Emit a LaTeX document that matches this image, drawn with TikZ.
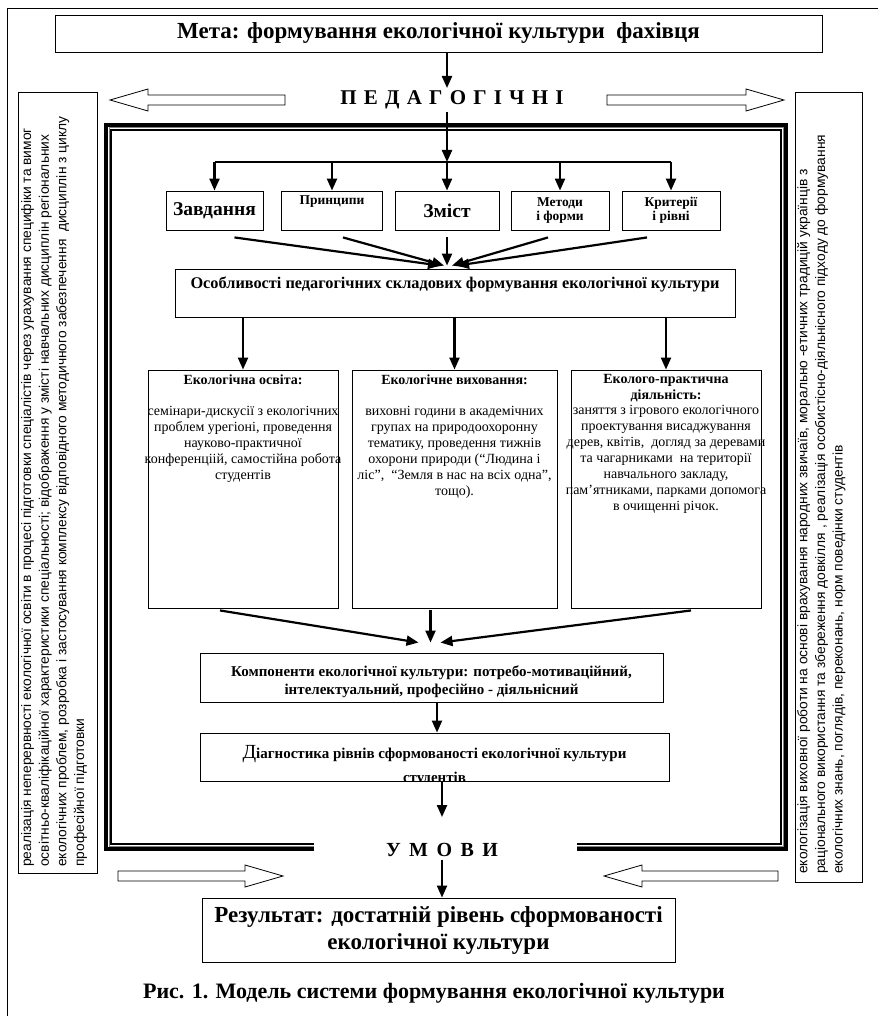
\documentclass[tikz,border=0pt]{standalone}
\usepackage{fontspec}
\setmainfont{Liberation Serif}
\newfontfamily\sidefont{Liberation Sans}
\usetikzlibrary{arrows.meta}
\newcommand\lsp{\hspace{7.2pt}}
\newcommand\usp{\hspace{8.5pt}}
\begin{document}
\begin{tikzpicture}[x=1pt,y=-1pt,
  bx/.style={draw,line width=0.9pt,inner sep=0pt},
  arr/.style={line width=2.2pt,-{Triangle[length=12pt,width=10pt]}},
  thk/.style={line width=2.2pt},
  hol/.style={draw,line width=0.8pt,line join=miter},
  lbl/.style={inner sep=0pt,align=center},
  side/.style={rotate=90,anchor=north west,inner sep=0pt,align=left,font=\sidefont\fontsize{13.8}{17.6}\selectfont},
  col/.style={anchor=north,inner sep=0pt,align=center,font=\fontsize{14}{16}\selectfont},
]
\useasboundingbox (0,0) rectangle (878,1016);
% page border
\draw[line width=0.8pt] (878,8) -- (7,8) -- (7,1016);

% title and top label
\node[bx,minimum width=767pt,minimum height=37pt,font=\fontsize{23}{26}\selectfont\bfseries] (title) at (438.5,33.5) {Мета: формування екологічної культури\ \ фахівця};
\node[lbl,font=\fontsize{21}{23}\selectfont\bfseries] (ped) at (452,100) {П\lsp Е\lsp Д\lsp А\lsp Г\lsp О\lsp Г\lsp І\lsp Ч\lsp Н\lsp І};
\coordinate (ax) at (447,0);
\coordinate (pedtop) at (447,88);
\draw[arr] (title.south -| ax) -- (pedtop);

% hollow arrows (top)
\draw[hol] (110,100) -- (148,89) -- (148,95) -- (285,95) -- (285,105) -- (148,105) -- (148,111) -- cycle;
\draw[hol] (784,100) -- (746,89) -- (746,95) -- (607,95) -- (607,105) -- (746,105) -- (746,111) -- cycle;

% side boxes
\node[bx,anchor=north west,minimum width=79pt,minimum height=781pt] (lbox) at (18,92) {};
\node[bx,anchor=north west,minimum width=67pt,minimum height=790pt] (rbox) at (795,92) {};
\node[side] (ltxt) at (21,867) {реалізація неперервності екологічної освіти в процесі підготовки спеціалістів через урахування специфіки та вимог\\освітньо-кваліфікаційної характеристики спеціальності; відображення у змісті навчальних дисциплін регіональних\\екологічних проблем, розробка і застосування комплексу відповідного методичного забезпечення\ \ дисциплін з циклу\\професійної підготовки};
\node[side] (rtxt) at (797,874) {екологізація виховної роботи на основі врахування народних звичаїв, морально -етичних традицій українців з\\раціонального використання та збереження довкілля , реалізація особистісно-діяльнісного підходу до формування\\екологічних знань, поглядів, переконань, норм поведінки студентів};

% triple frame (gap at the bottom for the label)
\draw[line width=3.2pt,line join=miter] (314,849) -- (106,849) -- (106,125) -- (786,125) -- (786,849) -- (577,849);
\draw[line width=1pt,gray] (314,846) -- (109,846) -- (109,128) -- (783,128) -- (783,846) -- (577,846);
\draw[line width=1.6pt,line join=miter] (314,844) -- (111,844) -- (111,130) -- (781,130) -- (781,844) -- (577,844);

% five boxes
\node[bx,minimum width=97pt,minimum height=39pt,font=\fontsize{19.5}{21}\selectfont\bfseries] (zav) at (214.5,210.5) {Завдання};
\node[bx,minimum width=101pt,minimum height=39pt] (pri) at (332,210.5) {};
\node[lbl,font=\fontsize{13.5}{15}\selectfont\bfseries] (prit) at (332,202) {Принципи};
\node[bx,minimum width=104pt,minimum height=39pt,font=\fontsize{19.5}{21}\selectfont\bfseries] (zmi) at (447,210.5) {Зміст};
\node[bx,minimum width=98pt,minimum height=39pt,align=center,font=\fontsize{13.5}{14.5}\selectfont\bfseries] (met) at (560,210.5) {Методи\\і форми};
\node[bx,minimum width=98pt,minimum height=39pt,align=center,font=\fontsize{13.5}{14.5}\selectfont\bfseries] (kri) at (671,210.5) {Критерії\\і рівні};

\coordinate (busl) at (214.5,162);
\coordinate (busr) at (671,162);
\draw[arr] (ped.south -| ax) ++(0,3) -- (busl -| ax);
\draw[thk] (busl) -- (busr);
\foreach \n in {zav,pri,zmi,met,kri} \draw[arr] (busl -| \n.north) -- (\n.north);

% features box
\node[bx,minimum width=560pt,minimum height=48pt] (osob) at (455,293) {};
\node[lbl,font=\fontsize{16.3}{18}\selectfont\bfseries] (osobt) at (455,284) {Особливості педагогічних складових формування екологічної культури};

\draw[arr] (zav.south) ++(20,7) -- ([xshift=-15pt,yshift=3pt]osob.north);
\draw[arr] (pri.south) ++(11,7) -- ([xshift=-11pt,yshift=3pt]osob.north);
\draw[arr] (zmi.south) ++(0,7) -- ([yshift=3pt]osob.north -| zmi.south);
\draw[arr] (met.south) ++(-12,7) -- ([xshift=-3pt,yshift=3pt]osob.north);
\draw[arr] (kri.south) ++(-24,7) -- ([xshift=2pt,yshift=3pt]osob.north);

% three columns
\node[bx,minimum width=190pt,minimum height=238pt] (ceo) at (243,489) {};
\node[bx,minimum width=205pt,minimum height=238pt] (cev) at (454.5,489) {};
\node[bx,minimum width=190pt,minimum height=238pt] (cep) at (666,489) {};
\draw[arr] (osob.south -| ceo.north) -- (ceo.north);
\draw[arr] (osob.south -| cev.north) -- (cev.north);
\draw[arr] (osob.south -| cep.north) -- (cep.north);

\node[col] (ceot) at ([yshift=-5pt]ceo.north) {\textbf{Екологічна освіта:}\\[15pt]семінари-дискусії з екологічних\\проблем урегіоні, проведення\\науково-практичної\\конференціій, самостійна робота\\студентів};
\node[col] (cevt) at ([yshift=-5pt]cev.north) {\textbf{Екологічне виховання:}\\[15pt]виховні години в академічних\\групах на природоохоронну\\тематику, проведення тижнів\\охорони природи (“Людина і\\ліс”,\ \ “Земля в нас на всіх одна”,\\тощо).};
\node[col] (cept) at ([yshift=-5pt]cep.north) {\textbf{Еколого-практична}\\\textbf{діяльність:}\\[-1pt]заняття з ігрового екологічного\\проектування висаджування\\дерев, квітів,\ \ догляд за деревами\\та чагарниками\ \ на території\\навчального закладу,\\пам’ятниками, парками допомога\\в очищенні річок.};

% components
\node[bx,minimum width=463pt,minimum height=49pt,align=center,font=\fontsize{15}{18}\selectfont\bfseries] (komp) at (431.5,677.5) {};
\node[lbl,font=\fontsize{15}{18}\selectfont\bfseries] (kompt) at (431.5,682) {Компоненти екологічної культури: потребо-мотиваційний,\\інтелектуальний, професійно - діяльнісний};
\draw[arr] (ceo.south) ++(-23,2) -- ([xshift=-13pt,yshift=10pt]komp.north);
\draw[arr] (cev.south) ++(-24,2) -- ([xshift=-1pt,yshift=10pt]komp.north);
\draw[arr] (cep.south) ++(25,2) -- ([xshift=9pt,yshift=10pt]komp.north);

% diagnostics (second line cut by the box edge)
\node[bx,minimum width=469pt,minimum height=48pt] (diag) at (434.5,757) {};
\begin{scope}
\clip (diag.north west) rectangle (diag.south east);
\node[lbl,font=\fontsize{15}{24}\selectfont\bfseries] (diagt) at (434.5,766) {{\mdseries\fontsize{20}{22}\selectfont Д}іагностика рівнів сформованості екологічної культури\\студентів};
\end{scope}
\coordinate (bx) at (437,0);
\coordinate (cx) at (442,0);
\draw[arr] (komp.south -| bx) -- (diag.north -| bx);

% conditions label
\node[lbl,font=\fontsize{20}{22}\selectfont\bfseries] (umovy) at (442,850) {У\usp М\usp О\usp В\usp И};
\coordinate (umtop) at (442,817);
\draw[arr] (diag.south -| cx) -- (umtop);

% hollow arrows (bottom)
\draw[hol] (283,876) -- (245,865) -- (245,871) -- (118,871) -- (118,881) -- (245,881) -- (245,887) -- cycle;
\draw[hol] (604,876) -- (642,865) -- (642,871) -- (778,871) -- (778,881) -- (642,881) -- (642,887) -- cycle;

% result
\node[bx,minimum width=473pt,minimum height=64pt,align=center,font=\fontsize{23}{27}\selectfont\bfseries] (res) at (438.5,930) {Результат: достатній рівень сформованості\\екологічної культури};
\draw[arr] (umovy.south -| cx) ++(0,3) -- (res.north -| cx);

% caption
\node[lbl,font=\fontsize{22}{24}\selectfont\bfseries] (cap) at (434,993) {Рис. 1. Модель системи формування екологічної культури};
\end{tikzpicture}
\end{document}
